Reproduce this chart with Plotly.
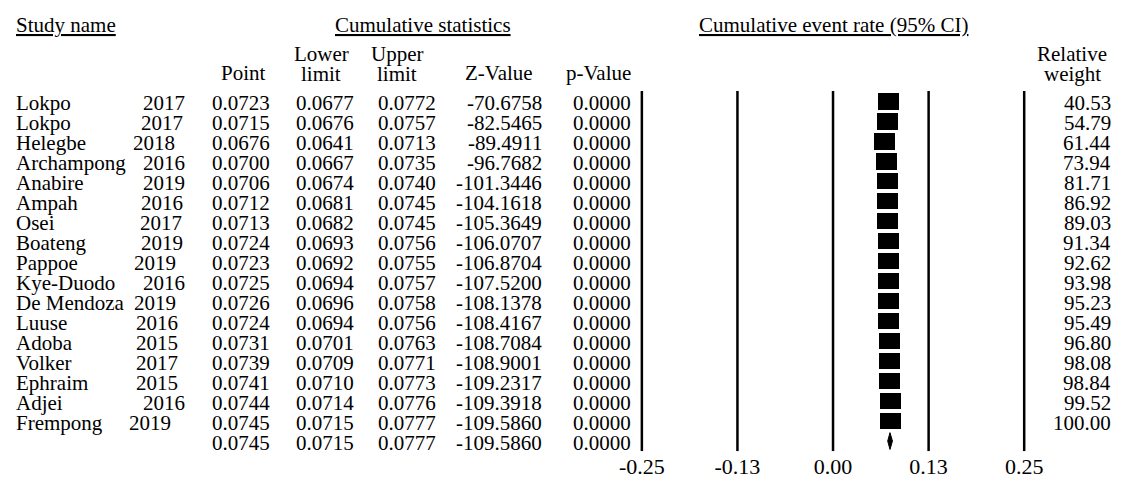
import plotly.graph_objects as go

W, H = 1132, 479

# ---------------- data ----------------
names = ["Lokpo", "Lokpo", "Helegbe", "Archampong", "Anabire", "Ampah", "Osei",
         "Boateng", "Pappoe", "Kye-Duodo", "De Mendoza", "Luuse", "Adoba",
         "Volker", "Ephraim", "Adjei", "Frempong"]
years = [2017, 2017, 2018, 2016, 2019, 2016, 2017, 2019, 2019, 2016, 2019,
         2016, 2015, 2017, 2015, 2016, 2019]
point = [0.0723, 0.0715, 0.0676, 0.0700, 0.0706, 0.0712, 0.0713, 0.0724, 0.0723,
         0.0725, 0.0726, 0.0724, 0.0731, 0.0739, 0.0741, 0.0744, 0.0745]
lower = [0.0677, 0.0676, 0.0641, 0.0667, 0.0674, 0.0681, 0.0682, 0.0693, 0.0692,
         0.0694, 0.0696, 0.0694, 0.0701, 0.0709, 0.0710, 0.0714, 0.0715]
upper = [0.0772, 0.0757, 0.0713, 0.0735, 0.0740, 0.0745, 0.0745, 0.0756, 0.0755,
         0.0757, 0.0758, 0.0756, 0.0763, 0.0771, 0.0773, 0.0776, 0.0777]
zval = [-70.6758, -82.5465, -89.4911, -96.7682, -101.3446, -104.1618, -105.3649,
        -106.0707, -106.8704, -107.5200, -108.1378, -108.4167, -108.7084,
        -108.9001, -109.2317, -109.3918, -109.5860]
pval = [0.0000] * 17
weight = [40.53, 54.79, 61.44, 73.94, 81.71, 86.92, 89.03, 91.34, 92.62, 93.98,
          95.23, 95.49, 96.80, 98.08, 98.84, 99.52, 100.00]
sum_point, sum_lower, sum_upper, sum_z, sum_p = 0.0745, 0.0715, 0.0777, -109.5860, 0.0000
tick_vals = [-0.25, -0.125, 0.0, 0.125, 0.25]
tick_text = ["-0.25", "-0.13", "0.00", "0.13", "0.25"]

# ---------------- layout constants (pixels) ----------------
ROW0, ROWH = 102.3, 20.2          # pixel centre of first row, row spacing
XNEG, XPOS = 641.0, 1024.0        # pixel of -0.25 and +0.25
DOM_L, DOM_R = 620.0, 1045.0      # plot domain in pixels
PLOT_BOTTOM = 456.0
LINE_TOP = 92.0
year_right = [185, 183, 175, 185, 185, 183, 182, 183, 176, 185, 176, 178, 178,
              178, 178, 185, 171]
COL_RIGHT = dict(point=270, lower=355, upper=437, z=543, p=632, w=1113)
FONT = dict(family="Liberation Serif, Times New Roman, serif", size=21, color="black")
TICKFONT = dict(family="Liberation Serif, Times New Roman, serif", size=22, color="black")

unit_per_px = 0.5 / (XPOS - XNEG)
x_range = [-0.25 - (XNEG - DOM_L) * unit_per_px, 0.25 + (DOM_R - XPOS) * unit_per_px]
y_top = (0 - ROW0) / ROWH
y_bot = (PLOT_BOTTOM - ROW0) / ROWH

n = len(names)
rows = list(range(n))
sum_row = n

fig = go.Figure()

# CI whiskers (mostly hidden behind boxes)
fig.add_trace(go.Scatter(
    x=point, y=rows, mode="markers", marker=dict(size=1, color="black"),
    error_x=dict(type="data", symmetric=False,
                 array=[u - p for u, p in zip(upper, point)],
                 arrayminus=[p - l for p, l in zip(point, lower)],
                 color="black", thickness=1.5, width=0),
    hoverinfo="skip"))

# boxes (constant size, 21 x ~17 px)
bw = 21 * unit_per_px
fig.add_trace(go.Bar(
    x=[bw] * n, base=[p - bw / 2 for p in point], y=rows, orientation="h",
    width=0.83, marker=dict(color="black", line=dict(width=0)), hoverinfo="skip"))

# summary diamond
fig.add_trace(go.Scatter(
    x=[sum_lower, sum_point, sum_upper, sum_point, sum_lower],
    y=[sum_row, sum_row - 0.42, sum_row, sum_row + 0.42, sum_row],
    mode="lines", fill="toself", fillcolor="black",
    line=dict(color="black", width=1), hoverinfo="skip"))

# vertical reference lines
for v in tick_vals:
    fig.add_shape(type="line", xref="x", yref="y", x0=v, x1=v,
                  y0=(LINE_TOP - ROW0) / ROWH, y1=y_bot,
                  line=dict(color="black", width=2.5))

ann = []


def txt(text, xpix, y, anchor, yref="y", yshift=-2):
    ann.append(dict(text=text, x=xpix / W, xref="paper", y=y, yref=yref,
                    xanchor=anchor, yanchor="middle", showarrow=False,
                    font=FONT, yshift=yshift))


def ppy(p):
    return 1 - p / H


# table rows
for i in rows:
    txt(names[i], 12, i, "left")
    txt(str(years[i]), year_right[i], i, "right")
    txt(f"{point[i]:.4f}", COL_RIGHT["point"], i, "right")
    txt(f"{lower[i]:.4f}", COL_RIGHT["lower"], i, "right")
    txt(f"{upper[i]:.4f}", COL_RIGHT["upper"], i, "right")
    txt(f"{zval[i]:.4f}", COL_RIGHT["z"], i, "right")
    txt(f"{pval[i]:.4f}", COL_RIGHT["p"], i, "right")
    txt(f"{weight[i]:.2f}", COL_RIGHT["w"], i, "right")

# summary row
txt(f"{sum_point:.4f}", COL_RIGHT["point"], sum_row, "right")
txt(f"{sum_lower:.4f}", COL_RIGHT["lower"], sum_row, "right")
txt(f"{sum_upper:.4f}", COL_RIGHT["upper"], sum_row, "right")
txt(f"{sum_z:.4f}", COL_RIGHT["z"], sum_row, "right")
txt(f"{sum_p:.4f}", COL_RIGHT["p"], sum_row, "right")

# headers
txt("<u>Study name</u>", 12, ppy(25), "left", yref="paper", yshift=0)
txt("<u>Cumulative statistics</u>", 422, ppy(25), "center", yref="paper", yshift=0)
txt("<u>Cumulative event rate (95% CI)</u>", 833, ppy(25), "center", yref="paper", yshift=0)
txt("Point", 266, ppy(74), "right", yref="paper", yshift=0)
txt("Lower", 320, ppy(55), "center", yref="paper", yshift=0)
txt("limit", 320, ppy(75), "center", yref="paper", yshift=0)
txt("Upper", 396, ppy(55), "center", yref="paper", yshift=0)
txt("limit", 396, ppy(75), "center", yref="paper", yshift=0)
txt("Z-Value", 498, ppy(74), "center", yref="paper", yshift=0)
txt("p-Value", 632, ppy(74), "right", yref="paper", yshift=0)
txt("Relative", 1072, ppy(55), "center", yref="paper", yshift=0)
txt("weight", 1072, ppy(75), "center", yref="paper", yshift=0)

fig.update_layout(
    width=W, height=H, margin=dict(l=0, r=0, t=0, b=0),
    paper_bgcolor="white", plot_bgcolor="white", showlegend=False,
    annotations=ann, bargap=0,
    xaxis=dict(domain=[DOM_L / W, DOM_R / W], range=x_range, tickvals=tick_vals,
               ticktext=tick_text, tickfont=TICKFONT, showgrid=False, zeroline=False,
               showline=False, ticks="", fixedrange=True),
    yaxis=dict(domain=[1 - PLOT_BOTTOM / H, 1], range=[y_bot, y_top], visible=False,
               showgrid=False, zeroline=False, fixedrange=True),
)

fig.write_html("out.html", config={"displayModeBar": False},
               post_script="document.body.style.margin='0';document.body.style.overflow='hidden';")
